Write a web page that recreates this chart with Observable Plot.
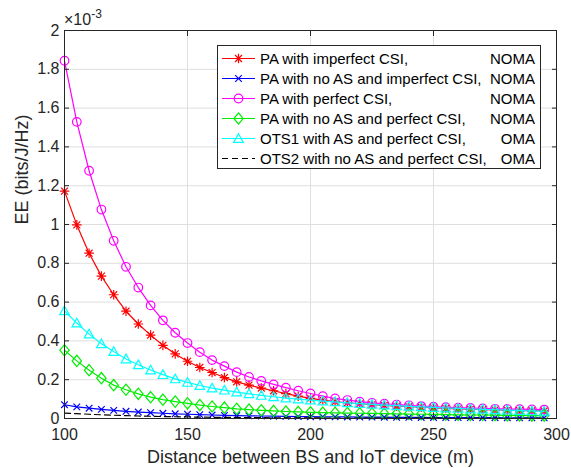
<!DOCTYPE html>
<html><head><meta charset="utf-8">
<script src="https://cdn.jsdelivr.net/npm/d3@7"></script>
<script src="https://cdn.jsdelivr.net/npm/@observablehq/plot@0.6"></script>
<style>html,body{margin:0;padding:0;background:#fff}#chart{width:571px;height:468px}</style>
</head><body><div id="chart"></div>
<script>
// ---- data (EE in units of 1e-3 bits/J/Hz) ----
const distance = [100,105,110,115,120,125,130,135,140,145,150,155,160,165,170,175,180,185,190,195,200,205,210,215,220,225,230,235,240,245,250,255,260,265,270,275,280,285,290,295];
const paImperfect = [1.172,0.998,0.852,0.734,0.638,0.553,0.487,0.430,0.377,0.333,0.295,0.263,0.237,0.211,0.189,0.172,0.157,0.143,0.128,0.115,0.104,0.095,0.087,0.081,0.076,0.072,0.068,0.064,0.061,0.058,0.055,0.052,0.050,0.048,0.046,0.044,0.043,0.041,0.040,0.039];
const paNoAsImperfect = [0.071,0.060,0.053,0.047,0.042,0.037,0.033,0.030,0.027,0.024,0.022,0.020,0.018,0.016,0.015,0.014,0.013,0.012,0.011,0.010,0.0095,0.009,0.0085,0.008,0.0075,0.007,0.0066,0.0062,0.0058,0.0055,0.0052,0.0049,0.0047,0.0045,0.0043,0.0041,0.0039,0.0037,0.0036,0.0035];
const paPerfect = [1.844,1.529,1.277,1.077,0.916,0.782,0.675,0.583,0.506,0.442,0.389,0.342,0.301,0.270,0.239,0.214,0.194,0.176,0.159,0.143,0.129,0.115,0.103,0.095,0.087,0.081,0.076,0.072,0.068,0.064,0.061,0.058,0.056,0.054,0.052,0.050,0.049,0.048,0.047,0.046];
const paNoAsPerfect = [0.352,0.297,0.249,0.208,0.172,0.148,0.127,0.110,0.097,0.087,0.078,0.069,0.062,0.056,0.050,0.046,0.042,0.039,0.036,0.034,0.032,0.030,0.029,0.028,0.027,0.026,0.025,0.024,0.023,0.022,0.021,0.020,0.019,0.018,0.018,0.017,0.016,0.016,0.015,0.015];
const ots1 = [0.555,0.492,0.435,0.385,0.345,0.307,0.277,0.250,0.226,0.204,0.186,0.170,0.157,0.146,0.136,0.127,0.119,0.112,0.105,0.100,0.095,0.090,0.086,0.081,0.077,0.073,0.069,0.066,0.063,0.060,0.057,0.054,0.052,0.049,0.047,0.045,0.043,0.041,0.039,0.037];
const ots2 = [0.028,0.025,0.022,0.019,0.017,0.015,0.013,0.0115,0.010,0.009,0.008,0.007,0.0063,0.0057,0.0051,0.0046,0.0042,0.0038,0.0035,0.0032,0.0029,0.0027,0.0025,0.0023,0.0021,0.0020,0.0019,0.0018,0.0017,0.0016,0.0015,0.0014,0.0013,0.0013,0.0012,0.0012,0.0011,0.0011,0.0010,0.0010];

const seriesLabels = ["PA with imperfect CSI,","PA with no AS and imperfect CSI,","PA with perfect CSI,","PA with no AS and perfect CSI,","OTS1 with AS and perfect CSI,","OTS2 with no AS and perfect CSI,"];
const seriesScheme = ["NOMA","NOMA","NOMA","NOMA","OMA","OMA"];
const xTicks = [100,150,200,250,300];
const yTicks = [0,0.2,0.4,0.6,0.8,1,1.2,1.4,1.6,1.8,2];

// ---- marker shapes (MATLAB-like) ----
const rOf = s => Math.sqrt(s/Math.PI);
const symStar = {draw(c,s){const r=rOf(s),d=r*0.72;c.moveTo(-r,0);c.lineTo(r,0);c.moveTo(0,-r);c.lineTo(0,r);c.moveTo(-d,-d);c.lineTo(d,d);c.moveTo(-d,d);c.lineTo(d,-d);}};
const symTimes = {draw(c,s){const r=rOf(s);c.moveTo(-r,-r);c.lineTo(r,r);c.moveTo(-r,r);c.lineTo(r,-r);}};
const symCircle = {draw(c,s){const r=rOf(s);c.moveTo(r,0);c.arc(0,0,r,0,2*Math.PI);c.closePath();}};
const symDiamond = {draw(c,s){const r=rOf(s);c.moveTo(0,-r*1.2);c.lineTo(r,0);c.lineTo(0,r*1.2);c.lineTo(-r,0);c.closePath();}};
const symTriangle = {draw(c,s){const r=rOf(s);c.moveTo(0,-r);c.lineTo(r,r*0.8);c.lineTo(-r,r*0.8);c.closePath();}};

const valuesList = [paImperfect,paNoAsImperfect,paPerfect,paNoAsPerfect,ots1,ots2];
const styles = [
  {stroke:"#ff0000", symbol:symStar, r:4.8},
  {stroke:"#0000ff", symbol:symTimes, r:3.3},
  {stroke:"#ff00ff", symbol:symCircle, r:4.3},
  {stroke:"#00ee00", symbol:symDiamond, r:4.7},
  {stroke:"#00ffff", symbol:symTriangle, r:4.8},
  {stroke:"#000000", symbol:null, r:0, dash:"6,4"}
];
const series = valuesList.map((vals,i)=>({i, data: distance.map((d,j)=>({d, v: vals[j]})), ...styles[i]}));

const FONT = "'Liberation Sans', Arial, Helvetica, sans-serif";
const AX = "#262626";
const noText = () => "";
const LW = 1.2;

const marks = [
  Plot.gridX(xTicks,{stroke:"#dfdfdf",strokeOpacity:1}),
  Plot.gridY(yTicks,{stroke:"#dfdfdf",strokeOpacity:1})
];
for (const s of series) {
  marks.push(Plot.line(s.data,{x:"d",y:"v",stroke:s.stroke,strokeWidth:LW,strokeDasharray:s.dash}));
  if (s.symbol) marks.push(Plot.dot(s.data,{x:"d",y:"v",symbol:s.symbol,r:s.r,stroke:s.stroke,fill:"none",strokeWidth:LW}));
}
marks.push(
  Plot.frame({stroke:AX,strokeWidth:1}),
  // inward ticks on all four sides
  Plot.axisX(xTicks,{anchor:"bottom",tickSize:5,dy:-5,tickFormat:noText,label:null,stroke:AX}),
  Plot.axisX(xTicks,{anchor:"top",tickSize:5,dy:5,tickFormat:noText,label:null,stroke:AX}),
  Plot.axisY(yTicks,{anchor:"left",tickSize:5,dx:5,tickFormat:noText,label:null,stroke:AX}),
  Plot.axisY(yTicks,{anchor:"right",tickSize:5,dx:-5,tickFormat:noText,label:null,stroke:AX}),
  // tick labels
  Plot.axisX(xTicks,{anchor:"bottom",tickSize:0,tickPadding:10,fontSize:16,label:null,fill:AX}),
  Plot.axisY(yTicks,{anchor:"left",tickSize:0,tickPadding:5,fontSize:16,label:null,fill:AX,tickFormat:d3.format("~g")}),
  Plot.text(["Distance between BS and IoT device (m)"],{frameAnchor:"bottom",dy:39,lineAnchor:"middle",fontSize:18,fill:AX}),
  Plot.text(["EE (bits/J/Hz)"],{frameAnchor:"left",dx:-42,rotate:-90,lineAnchor:"middle",fontSize:18,fill:AX})
);

const chart = Plot.plot({
  width:571, height:468,
  marginLeft:64, marginRight:15, marginTop:30, marginBottom:50,
  x:{domain:[100,300]},
  y:{domain:[0,2]},
  style:{fontFamily:FONT, fontSize:"16px", background:"#fff"},
  marks
});
document.getElementById("chart").appendChild(chart);

const svg = d3.select(chart);
// exponent label
const ex = svg.append("text").attr("x",64).attr("y",25).attr("text-anchor","start").attr("font-family",FONT).attr("font-size",16).attr("fill",AX).text("×10");
ex.append("tspan").attr("dy",-7).attr("font-size",12).text("-3");

// legend
const lg = svg.append("g").attr("font-family",FONT).attr("font-size",15).attr("fill","#000").attr("text-anchor","start");
lg.append("rect").attr("x",217.5).attr("y",45.5).attr("width",323).attr("height",123).attr("fill","#fff").attr("stroke",AX).attr("stroke-width",1);
series.forEach((s,i)=>{
  const y = 58.5 + 20*i;
  lg.append("line").attr("x1",222).attr("x2",255).attr("y1",y).attr("y2",y).attr("stroke",s.stroke).attr("stroke-width",LW).attr("stroke-dasharray",s.dash||null);
  if (s.symbol) lg.append("path").attr("transform",`translate(238.5,${y})`).attr("d",d3.symbol(s.symbol,Math.PI*s.r*s.r)()).attr("fill","none").attr("stroke",s.stroke).attr("stroke-width",LW);
  lg.append("text").attr("x",260).attr("y",y).attr("dy","0.36em").text(seriesLabels[i]);
  lg.append("text").attr("x",535).attr("y",y).attr("dy","0.36em").attr("text-anchor","end").text(seriesScheme[i]);
});
</script></body></html>
